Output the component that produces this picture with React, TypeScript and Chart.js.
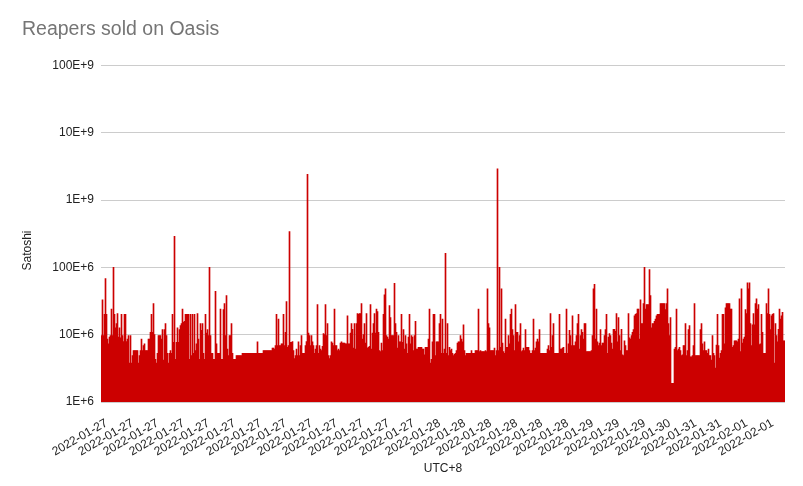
import React, { useEffect, useRef } from "react";
import { Chart, registerables } from "chart.js";

Chart.register(...registerables);

// one bar per sale, value in millions of satoshi, read left to right off the chart
const soldMillions = [
  9.7, 33, 9.7, 20, 68, 20, 8.6, 7.3, 9.2, 9.7, 24, 9.7, 100, 20, 12.6, 14.6, 20.6, 9.2, 12.6, 9,
  20, 9.7, 7.9, 20, 20, 7.9, 8.6, 9.7, 3.8, 9.7, 3.8, 4.9, 5.8, 5.8, 5.8, 5.8, 5.8, 3.8, 4.9, 5.8,
  8.6, 5.8, 6.9, 7.3, 5.8, 5.8, 5.8, 8.6, 8.6, 10.8, 20, 10.8, 29, 10, 4.3, 3.8, 5.3, 9.7, 9.7, 9.7,
  8.6, 11.9, 4.2, 11.9, 14.6, 9.7, 5.3, 3.8, 5.3, 5.8, 5.3, 20, 7.7, 290, 4.3, 7.7, 12.6, 7.7, 11.9, 13.6,
  14.6, 24, 15.3, 15.8, 20, 20, 20, 20, 4.3, 20, 4.9, 20, 5.3, 20, 5.8, 7.3, 20.6, 8.6, 4.3, 14.6,
  11.6, 14.6, 5.3, 4.3, 20, 10.6, 11.9, 9.7, 100, 9.7, 5.3, 5.3, 4.3, 4.3, 44, 7.3, 5.3, 5.3, 5.3, 24,
  4.3, 4.3, 23.6, 29, 9.7, 38, 6.1, 4.9, 9.7, 9.7, 14.6, 5.3, 4.3, 4.3, 4.3, 4.9, 4.9, 4.9, 4.9, 4.9,
  4.9, 5.3, 5.3, 5.3, 5.3, 5.3, 5.3, 5.3, 5.3, 5.3, 5.3, 5.3, 5.3, 5.3, 5.3, 5.3, 7.8, 5.3, 5.3, 5.3,
  5.3, 5.3, 5.8, 5.8, 5.8, 5.8, 5.8, 5.8, 5.8, 5.8, 5.8, 6.3, 6.3, 6.1, 6.9, 20, 6.9, 17, 6.9, 6.9,
  7.3, 7.3, 20, 6.9, 10.8, 31, 6.5, 6.9, 340, 7.7, 7.7, 7.9, 5.8, 4.4, 4.9, 6.1, 4.9, 7.8, 4.9, 6.9,
  9.7, 5.3, 5.3, 5.3, 6.9, 7.9, 2400, 10.6, 9.7, 6.9, 9.7, 7.8, 6.9, 5.3, 6.1, 6.9, 28, 5.3, 6.9, 6.1,
  5.8, 6.7, 10.4, 10, 28, 9.7, 14.6, 4.9, 4.4, 4.9, 7.8, 7.5, 6.9, 24, 6.9, 6.9, 5.8, 6.1, 5.8, 7.5,
  7.8, 7.5, 7.5, 7.5, 7.3, 7.3, 19, 7.3, 7.3, 10.6, 14.6, 12, 6.3, 14.6, 6.1, 14.6, 20.6, 20, 20.6, 20.6,
  29, 8.6, 10, 14.6, 7.5, 20.6, 6.3, 6.5, 6.7, 28, 6.1, 10.6, 14.6, 20.6, 10.6, 24, 22, 10.8, 5.8, 5.6,
  7.5, 5.8, 20, 39, 48, 9.7, 9.2, 8.6, 27, 18, 9.7, 9.7, 9.7, 58, 14.6, 10.8, 6.3, 9.7, 7.8, 7.8,
  20, 7.7, 11.9, 6.1, 9.7, 7.3, 5.3, 9.2, 20, 7.3, 9.7, 9.2, 5.8, 9.7, 15.8, 6.1, 6.1, 6.5, 6.5, 6.5,
  6.5, 6.1, 6.1, 5.0, 6.5, 6.5, 6.5, 8.6, 24, 3.8, 4.3, 7.8, 20, 20, 4.9, 7.8, 7.8, 7.8, 14.6, 20,
  5.3, 17, 5.3, 6.1, 162, 5.3, 14.6, 4.9, 6.5, 5.8, 6.1, 5.3, 4.9, 5.1, 5.3, 5.8, 7.5, 7.8, 7.8, 9.7,
  8.6, 7.8, 14, 5.8, 4.9, 5.3, 5.3, 5.3, 5.3, 5.3, 5.8, 5.3, 5.3, 5.3, 5.8, 5.8, 5.8, 24, 5.6, 5.8,
  5.6, 5.6, 5.6, 5.6, 5.8, 5.6, 48, 14.6, 12.6, 5.8, 5.8, 5.8, 5.8, 6.3, 4.9, 5.8, 2900, 5.8, 100, 6.5,
  48, 7.5, 5.6, 5.3, 17, 6.5, 6.5, 9.7, 7.3, 20, 24, 11.9, 9.7, 5.8, 28, 10.8, 10.8, 7.8, 9.7, 14.6,
  5.6, 5.8, 6.3, 5.8, 11.9, 6.5, 6.5, 6.5, 5.8, 5.3, 5.3, 5.8, 17, 5.8, 6.3, 7.8, 8.6, 7.8, 11.9, 5.3,
  5.3, 5.3, 5.3, 5.3, 5.3, 5.3, 6.1, 6.9, 5.8, 20.6, 6.5, 9.7, 14.6, 5.3, 5.3, 5.3, 5.3, 5.3, 20, 6.1,
  6.1, 6.3, 6.5, 5.3, 5.3, 24, 5.3, 7.3, 11.6, 9.7, 6.9, 19, 6.9, 6.9, 7.8, 9.7, 14.6, 20, 6.1, 9.7,
  11.9, 10.8, 8.6, 14.6, 14.6, 5.6, 5.6, 5.6, 5.6, 5.6, 5.8, 9.7, 48, 56, 8.6, 24, 7.8, 6.9, 7.5, 11.9,
  6.9, 7.5, 7.5, 9.7, 11.9, 20, 5.3, 9.2, 10.4, 9.7, 7.5, 6.1, 12, 12, 11.2, 20.6, 7.8, 18, 9.7, 5.8,
  12, 5.0, 4.9, 8.1, 6.9, 5.8, 5.8, 20.6, 9, 8.6, 9.7, 10.8, 11.9, 19, 20, 20.6, 24, 24, 8.6, 33,
  14.6, 14.6, 29, 100, 24, 28, 28, 28, 93, 38, 12.6, 14.6, 14.6, 15.8, 17, 19, 20, 20, 20, 29,
  29, 29, 29, 29, 23.6, 29, 48, 14.6, 9.7, 18, 1.9, 1.9, 1.9, 6.1, 6.5, 24, 5.8, 6.1, 6.5, 5.8,
  4.9, 5.0, 6.9, 6.9, 14.6, 4.9, 5.8, 11.9, 13.6, 4.7, 4.7, 4.9, 6.9, 29, 4.9, 4.9, 4.9, 4.9, 4.9, 11.9,
  14.6, 7.3, 5.8, 7.8, 5.8, 5.8, 5.3, 6.1, 4.9, 4.9, 4.2, 9.7, 5.3, 4.9, 3.2, 7.0, 20, 6.9, 4.5, 5.3,
  5.8, 20, 20, 7.3, 25, 29, 29, 29, 29, 24, 24, 6.5, 6.9, 8.1, 8.1, 8.1, 7.8, 8.6, 34, 5.6,
  48, 7.5, 8.6, 9.2, 23.6, 20.6, 59, 48, 59, 14.6, 6.9, 14, 20.6, 14, 29, 34, 24, 28, 7.1, 7.3,
  20, 10.8, 5.3, 5.3, 5.3, 29, 20.6, 48, 20, 11.9, 19, 20, 20.6, 3.8, 14.6, 9.7, 7.8, 12, 24, 17,
  19, 21.5, 8.1, 8.1,
];

const tickLabels = [
  "2022-01-27", "2022-01-27", "2022-01-27", "2022-01-27", "2022-01-27", "2022-01-27", "2022-01-27",
  "2022-01-27", "2022-01-27", "2022-01-27", "2022-01-27", "2022-01-27", "2022-01-27",
  "2022-01-28", "2022-01-28", "2022-01-28", "2022-01-28", "2022-01-28", "2022-01-28",
  "2022-01-29", "2022-01-29", "2022-01-29",
  "2022-01-30",
  "2022-01-31", "2022-01-31",
  "2022-02-01", "2022-02-01",
];

const yTicks = [1e6, 1e7, 1e8, 1e9, 1e10, 1e11];
const yTickLabels = ["1E+6", "10E+6", "100E+6", "1E+9", "10E+9", "100E+9"];

const font = '"Liberation Sans", Arial, sans-serif';

// a date label roughly every 25.6 sales
const tickStart = 5;
const tickStep = 25.6;
const tickIndex = tickLabels.map((_, k) => Math.round(tickStart + tickStep * k));
const categories = soldMillions.map((_, n) => {
  const k = Math.round((n - tickStart) / tickStep);
  return tickLabels[Math.min(tickLabels.length - 1, Math.max(0, k))];
});

const yTitlePlugin = {
  id: "yTitle",
  afterDraw(chart: Chart) {
    const { ctx, chartArea } = chart;
    ctx.save();
    ctx.translate(chartArea.left - 73, chartArea.top + chartArea.height * 0.55);
    ctx.rotate(-Math.PI / 2);
    ctx.font = `12px ${font}`;
    ctx.fillStyle = "#222222";
    ctx.textAlign = "center";
    ctx.textBaseline = "middle";
    ctx.fillText("Satoshi", 0, 0);
    ctx.restore();
  },
};

export default function App() {
  const canvasRef = useRef<HTMLCanvasElement>(null);

  useEffect(() => {
    document.body.style.margin = "0";
    const ctx = canvasRef.current?.getContext("2d");
    if (!ctx) return;

    const chart = new Chart(ctx, {
      type: "bar",
      data: {
        labels: categories,
        datasets: [
          {
            label: "Satoshi",
            data: soldMillions.map((v) => v * 1e6),
            backgroundColor: "#cc0000",
            borderWidth: 0,
            barPercentage: 1,
            categoryPercentage: 1,
          },
        ],
      },
      options: {
        animation: false,
        responsive: false,
        layout: { padding: { left: 22, right: 18, top: 0, bottom: 0 } },
        plugins: {
          legend: { display: false },
          tooltip: { enabled: false },
          title: {
            display: true,
            text: "Reapers sold on Oasis",
            align: "start",
            color: "#757575",
            font: { family: font, size: 19.5, weight: "normal" },
            padding: { top: 18, bottom: 24 },
          },
        },
        scales: {
          x: {
            grid: { display: false },
            border: { display: false },
            afterBuildTicks: (scale: any) => {
              scale.ticks = tickIndex.map((v) => ({ value: v }));
            },
            afterFit: (scale: any) => {
              scale.height = 84;
            },
            ticks: {
              autoSkip: false,
              minRotation: 30,
              maxRotation: 30,
              padding: 6,
              color: "#222222",
              font: { family: font, size: 12 },
            },
            title: {
              display: true,
              text: "UTC+8",
              color: "#222222",
              font: { family: font, size: 12 },
              padding: { top: 0, bottom: 10 },
            },
          },
          y: {
            type: "logarithmic",
            min: 1e6,
            max: 1e11,
            afterBuildTicks: (scale: any) => {
              scale.ticks = yTicks.map((v) => ({ value: v }));
            },
            afterFit: (scale: any) => {
              scale.width = 79;
            },
            grid: { color: "#cccccc", drawTicks: false },
            border: { display: false },
            ticks: {
              padding: 7,
              color: "#222222",
              font: { family: font, size: 12 },
              callback: (v: any) => yTickLabels[yTicks.indexOf(Number(v))] ?? "",
            },
          },
        },
      },
      plugins: [yTitlePlugin],
    });

    return () => chart.destroy();
  }, []);

  return (
    <div style={{ width: 803, height: 486, background: "#ffffff" }}>
      <canvas ref={canvasRef} width={803} height={486} style={{ display: "block" }}></canvas>
    </div>
  );
}
